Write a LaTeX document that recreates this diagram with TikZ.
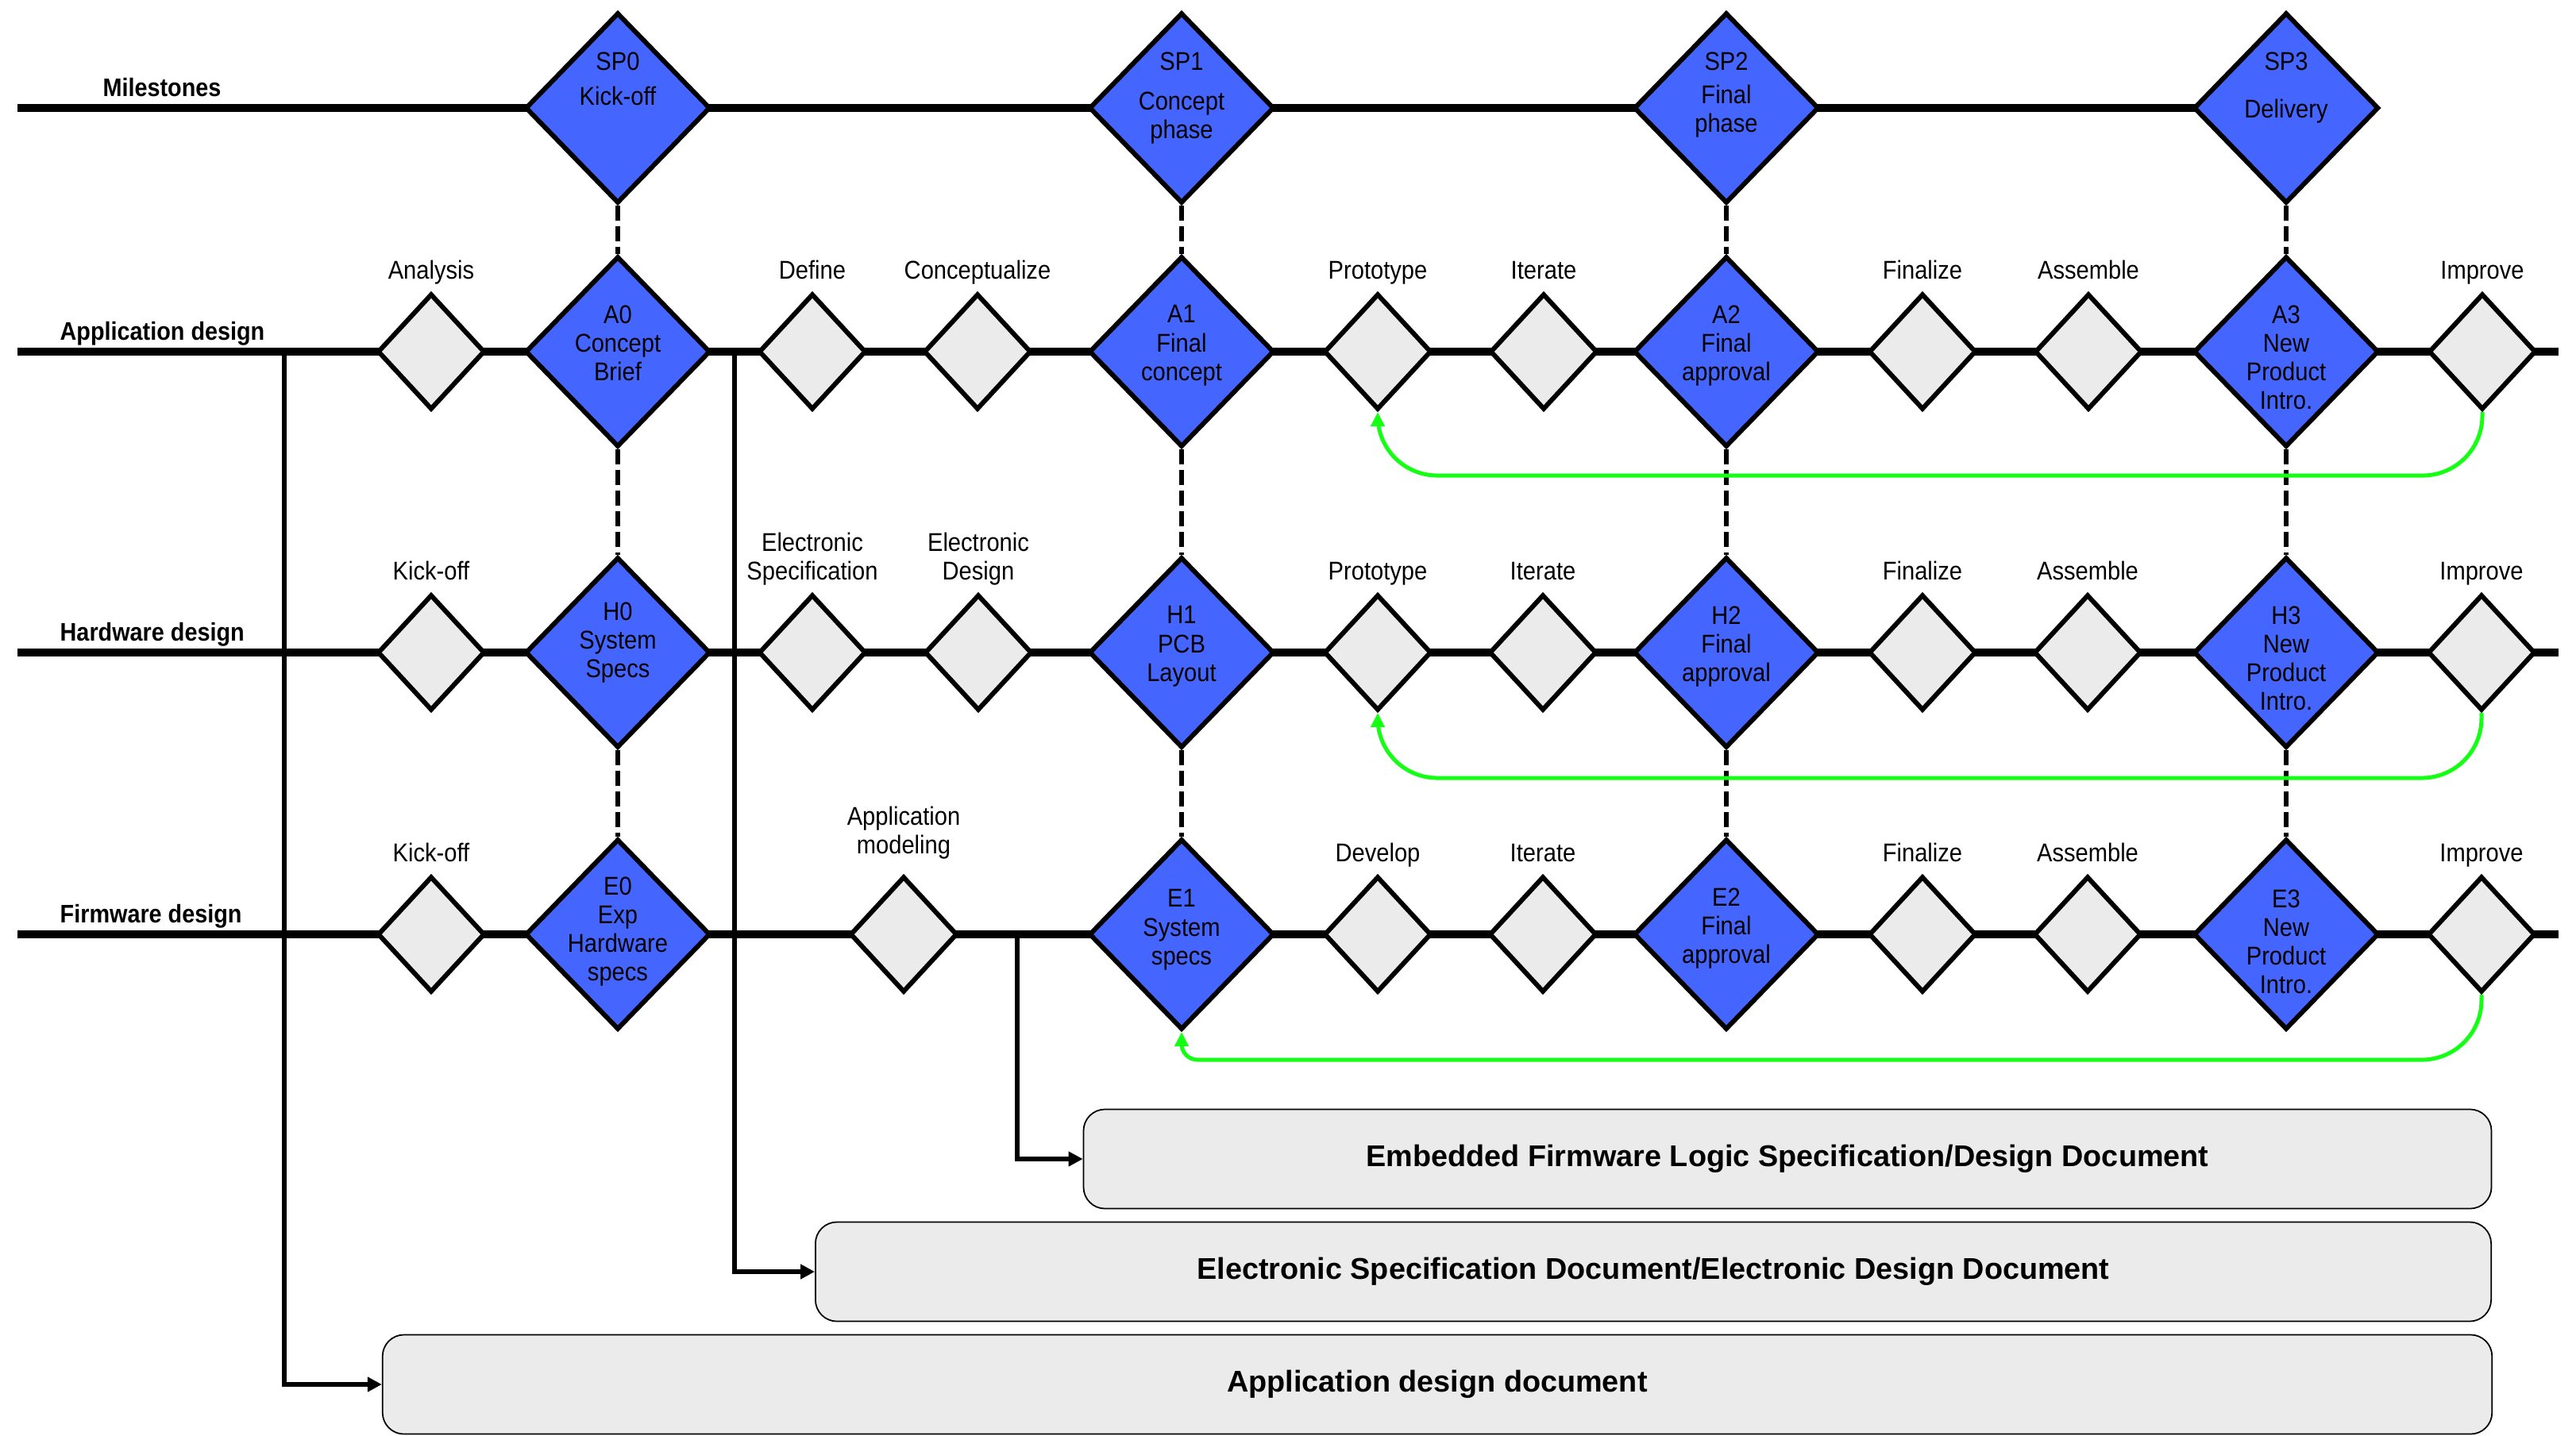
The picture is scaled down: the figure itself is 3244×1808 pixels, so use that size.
\documentclass[tikz,border=0pt]{standalone}
\usepackage{fontspec}
\setmainfont{Liberation Sans}[FakeStretch=0.9]
\newfontfamily\docfont{Liberation Sans}
\usepackage{tikz}
\usetikzlibrary{arrows.meta,positioning,shapes.geometric,backgrounds}
\definecolor{gateblue}{HTML}{4466FF}
\definecolor{stepgray}{HTML}{EBEBEB}
\definecolor{reworkgreen}{HTML}{14FF14}

\begin{document}
\begin{tikzpicture}[
  x=0.01cm, y=-0.01cm,
  gate/.style={diamond,draw=black,line width=1.7pt,fill=gateblue,inner sep=0pt,
               minimum width=2.33cm,minimum height=2.40cm},
  gatetext/.style={anchor=north,inner sep=0pt,align=center,
                   font=\fontsize{9.2}{10.25}\selectfont},
  stepbox/.style={diamond,draw=black,line width=1.7pt,fill=stepgray,inner sep=0pt,
                  minimum width=1.35cm,minimum height=1.46cm},
  steplabel/.style={align=center,inner sep=0pt,font=\fontsize{9.2}{10.25}\selectfont},
  lanename/.style={anchor=base west,inner sep=0pt,font=\bfseries\fontsize{9.1}{11}\selectfont},
  doc/.style={rectangle,rounded corners=0.27cm,draw=black,line width=0.5pt,fill=stepgray,
              minimum height=1.25cm,font=\docfont\bfseries\fontsize{10.75}{12}\selectfont},
  lane/.style={line width=0.095cm},
  link/.style={line width=1.6pt,dash pattern=on 0.19cm off 0.07cm},
  feed/.style={-{Triangle[length=0.18cm,width=0.18cm]},line width=0.065cm},
  rework/.style={-{Triangle[length=0.18cm,width=0.17cm]},line width=0.05cm,
                 draw=reworkgreen,rounded corners=0.75cm},
  label distance=0.04cm
]
  \useasboundingbox (0,0) rectangle (3244,1808);

  % lane names
  \node[lanename,anchor=base] (m-name) at (204,121) {Milestones};
  \node[lanename] (a-name) at (75,428) {Application design};
  \node[lanename] (h-name) at (75,807) {Hardware design};
  \node[lanename] (f-name) at (75,1162) {Firmware design};

  % lane ends and taps
  \coordinate (m-w) at (22,136);
  \coordinate (a-w) at (22,443);  \coordinate (a-e) at (3222,443);
  \coordinate (h-w) at (22,822);  \coordinate (h-e) at (3222,822);
  \coordinate (f-w) at (22,1177); \coordinate (f-e) at (3222,1177);
  \coordinate (a-tap1) at (358,443);
  \coordinate (a-tap2) at (925,443);
  \coordinate (f-tap) at (1281,1177);

  % gates
  \foreach \c/\xx in {0/778,1/1488,2/2174,3/2879} {
    \node[gate] (sp\c) at (\xx,136) {};
    \node[gate] (a\c) at (\xx,443) {};
    \node[gate] (h\c) at (\xx,822) {};
    \node[gate] (e\c) at (\xx,1177) {};
  }

  % steps
  \foreach \nm/\xx/\txt in {ana/543/Analysis, def/1023/Define, con/1231/Conceptualize,
      pro/1735/Prototype, ite/1944/Iterate, fin/2421/Finalize, ass/2630/Assemble, imp/3126/Improve}
    \node[stepbox,label={[steplabel]above:\txt\strut}] (a-\nm) at (\xx,443) {};
  \foreach \nm/\xx/\txt in {kic/543/Kick-off, esp/1023/{Electronic\\Specification},
      ede/1232/{Electronic\\Design}, pro/1735/Prototype, ite/1943/Iterate,
      fin/2421/Finalize, ass/2629/Assemble, imp/3125/Improve}
    \node[stepbox,label={[steplabel]above:\txt\strut}] (h-\nm) at (\xx,822) {};
  \foreach \nm/\xx/\txt in {kic/543/Kick-off, dev/1735/Develop, ite/1943/Iterate,
      fin/2421/Finalize, ass/2629/Assemble, imp/3125/Improve}
    \node[stepbox,label={[steplabel]above:\txt\strut}] (f-\nm) at (\xx,1177) {};
  \node[stepbox,label={[steplabel,label distance=0.14cm]above:Application\\modeling\strut}] (f-mod) at (1138,1177) {};

  % gate texts
  \node[gatetext] (sp0-t) at (778,65) {SP0\\[2.3pt]Kick-off};
  \node[gatetext] (sp1-t) at (1488,65) {SP1\\[4pt]Concept\\phase};
  \node[gatetext] (sp2-t) at (2174,65) {SP2\\[1.7pt]Final\\phase};
  \node[gatetext] (sp3-t) at (2879,65) {SP3\\[7pt]Delivery};
  \node[gatetext] (a0-t) at (778,384) {A0\\Concept\\Brief};
  \node[gatetext] (a1-t) at (1488,384) {A1\\Final\\concept};
  \node[gatetext] (a2-t) at (2174,384) {A2\\Final\\approval};
  \node[gatetext] (a3-t) at (2879,384) {A3\\New\\Product\\Intro.};
  \node[gatetext] (h0-t) at (778,758) {H0\\System\\Specs};
  \node[gatetext] (h1-t) at (1488,763) {H1\\PCB\\Layout};
  \node[gatetext] (h2-t) at (2174,763) {H2\\Final\\approval};
  \node[gatetext] (h3-t) at (2879,763) {H3\\New\\Product\\Intro.};
  \node[gatetext] (e0-t) at (778,1104) {E0\\Exp\\Hardware\\specs};
  \node[gatetext] (e1-t) at (1488,1120) {E1\\System\\specs};
  \node[gatetext] (e2-t) at (2174,1118) {E2\\Final\\approval};
  \node[gatetext] (e3-t) at (2879,1120) {E3\\New\\Product\\Intro.};

  % documents
  \node[doc,minimum width=17.72cm] (doc1) at (2251,1460) {Embedded Firmware Logic Specification/Design Document};
  \node[doc,minimum width=21.09cm] (doc2) at (2082,1602) {Electronic Specification Document/Electronic Design Document};
  \node[doc,minimum width=26.55cm] (doc3) at (1810,1744) {Application design document};

  \begin{scope}[on background layer]
    \draw[lane] (m-w) -- (sp3.center);
    \draw[lane] (a-w) -- (a-e);
    \draw[lane] (h-w) -- (h-e);
    \draw[lane] (f-w) -- (f-e);
  \end{scope}

  \foreach \c in {0,...,3} {
    \draw[link] (sp\c) -- (a\c);
    \draw[link] (a\c) -- (h\c);
    \draw[link] (h\c) -- (e\c);
  }

  \draw[feed] (a-tap1) |- (doc3.west);
  \draw[feed] (a-tap2) |- (doc2.west);
  \draw[feed] (f-tap) |- (doc1.west);

  \draw[rework] (a-imp.south) -- ++(0,80) -| (a-pro.south);
  \draw[rework] (h-imp.south) -- ++(0,82) -| (h-pro.south);
  \draw[rework] (f-imp.south) -- ++(0,82) coordinate (f-bend)
    [rounded corners=0.2cm] -- (f-bend -| e1.south) -- (e1.south);
\end{tikzpicture}
\end{document}
